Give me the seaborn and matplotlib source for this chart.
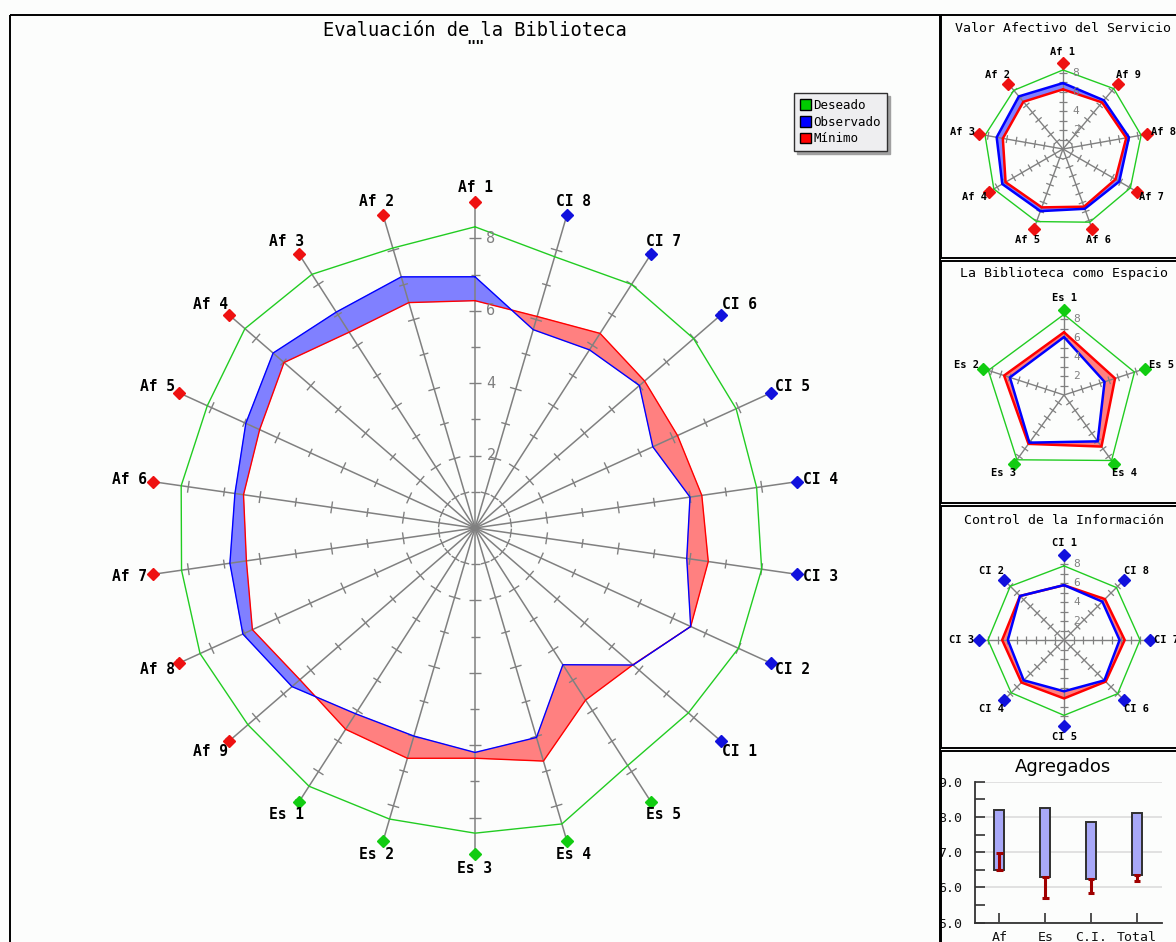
import numpy as np
import matplotlib
matplotlib.use("Agg")
import matplotlib.pyplot as plt
import seaborn as sns
from matplotlib.patches import Rectangle, Patch
from matplotlib.collections import LineCollection

# ---------------------------------------------------------------------------
# Items of each dimension (drawn counter-clockwise starting at the top)
af_labels = ["Af 1", "Af 2", "Af 3", "Af 4", "Af 5", "Af 6", "Af 7", "Af 8", "Af 9"]
es_labels = ["Es 1", "Es 2", "Es 3", "Es 4", "Es 5"]
ci_labels = ["CI 1", "CI 2", "CI 3", "CI 4", "CI 5", "CI 6", "CI 7", "CI 8"]

af_deseado = [8.32, 8.06, 8.33, 8.41, 8.13, 8.20, 8.19, 8.35, 8.30]
af_observado = [6.94, 7.23, 7.09, 7.38, 6.96, 6.70, 6.84, 7.05, 6.69]
af_minimo = [6.28, 6.49, 6.43, 6.98, 6.54, 6.46, 6.38, 6.76, 6.40]

es_deseado = [8.48, 8.38, 8.43, 8.52, 7.80]
es_observado = [6.10, 5.99, 6.20, 6.03, 4.49]
es_minimo = [6.61, 6.63, 6.36, 6.71, 5.65]

ci_deseado = [7.80, 8.00, 8.00, 7.86, 7.93, 7.99, 8.00, 7.81]
ci_observado = [5.78, 6.55, 5.91, 6.00, 5.40, 6.01, 5.85, 5.71]
ci_minimo = [5.77, 6.55, 6.51, 6.33, 6.15, 6.20, 6.39, 6.09]

# Aggregated scores per dimension
agg_categories = ["Af", "Es", "C.I.", "Total"]
agg_minimo = [6.50, 6.31, 6.24, 6.35]
agg_deseado = [8.20, 8.24, 7.86, 8.10]
agg_observado = [6.99, 5.70, 5.85, 6.19]

# ---------------------------------------------------------------------------
W, H = 1176, 942
BG = "#fcfdfc"
AXIS_GRAY = "#808080"
GREEN_LINE = "#22cc22"
BLUE_LINE = "#0000ff"
RED_LINE = "#ff0000"
BLUE_FILL = "#8080ff"
RED_FILL = "#ff8080"
AF_MARK = "#ee1111"
ES_MARK = "#11cc11"
CI_MARK = "#1111dd"
MONO = ["DejaVu Sans Mono"]

sns.set_theme(style="white")
plt.rcParams["font.family"] = MONO
plt.rcParams["axes.facecolor"] = "none"
plt.rcParams["text.color"] = "black"

fig = plt.figure(figsize=(W / 100, H / 100), dpi=100, facecolor=BG)


def px_axes(x0, y0, x1, y1):
    return fig.add_axes([x0 / W, 1 - y1 / H, (x1 - x0) / W, (y1 - y0) / H])


def seg_intersection(p0, p1, q0, q1):
    d1 = p1 - p0
    d2 = q1 - q0
    den = d1[0] * d2[1] - d1[1] * d2[0]
    if abs(den) < 1e-12:
        return (p0 + q0) / 2
    t = ((q0[0] - p0[0]) * d2[1] - (q0[1] - p0[1]) * d2[0]) / den
    return p0 + t * d1


def radar(box, center, scale, labels, deseado, observado, minimo, marker_colors,
          poly_lw, label_size, char_px, label_pad, tick_font, tick_gap,
          tick_major, tick_minor, marker_size, axis_lw):
    x0, y0, x1, y1 = box
    cx, cy = center
    ax = px_axes(x0, y0, x1, y1)
    ax.set_xlim((x0 - cx) / scale, (x1 - cx) / scale)
    ax.set_ylim((cy - y1) / scale, (cy - y0) / scale)
    ax.axis("off")

    n = len(labels)
    ang = np.pi / 2 + 2 * np.pi * np.arange(n) / n
    ux, uy = np.cos(ang), np.sin(ang)
    des = np.asarray(deseado, float)
    obs = np.asarray(observado, float)
    mn = np.asarray(minimo, float)

    # band between observed and minimum: blue where observed is above minimum
    for i in range(n):
        j = (i + 1) % n
        b0 = np.array([obs[i] * ux[i], obs[i] * uy[i]])
        b1 = np.array([obs[j] * ux[j], obs[j] * uy[j]])
        r0 = np.array([mn[i] * ux[i], mn[i] * uy[i]])
        r1 = np.array([mn[j] * ux[j], mn[j] * uy[j]])
        d0, d1 = obs[i] - mn[i], obs[j] - mn[j]
        if d0 * d1 >= 0:
            col = BLUE_FILL if (d0 + d1) > 0 else RED_FILL
            pts = np.array([b0, b1, r1, r0])
            ax.fill(pts[:, 0], pts[:, 1], color=col, lw=0.5, zorder=1)
        else:
            xp = seg_intersection(b0, b1, r0, r1)
            for tri, d in (([b0, xp, r0], d0), ([xp, b1, r1], d1)):
                tri = np.array(tri)
                ax.fill(tri[:, 0], tri[:, 1], color=BLUE_FILL if d > 0 else RED_FILL,
                        lw=0.5, zorder=1)

    # spokes and their unit ticks
    segs_axis = []
    segs_tick = []
    for i in range(n):
        segs_axis.append([(0, 0), (9 * ux[i], 9 * uy[i])])
        px, py = -uy[i], ux[i]
        for r in range(1, 10):
            L = (tick_major if r % 2 == 0 else tick_minor) / scale
            segs_tick.append([(r * ux[i] - L * px, r * uy[i] - L * py),
                              (r * ux[i] + L * px, r * uy[i] + L * py)])
    ax.add_collection(LineCollection(segs_axis, colors=AXIS_GRAY, linewidths=axis_lw, zorder=2))
    ax.add_collection(LineCollection(segs_tick, colors=AXIS_GRAY, linewidths=axis_lw * 0.9, zorder=2))

    # polygons
    for vals, col, lw in ((des, GREEN_LINE, 1.0), (mn, RED_LINE, poly_lw), (obs, BLUE_LINE, poly_lw)):
        xs = list(vals * ux) + [vals[0] * ux[0]]
        ys = list(vals * uy) + [vals[0] * uy[0]]
        sns.lineplot(x=xs, y=ys, sort=False, estimator=None, color=col, lw=lw, ax=ax, zorder=3)

    # item markers and labels
    for i in range(n):
        ax.plot(9 * ux[i], 9 * uy[i], marker="D", ms=marker_size, color=marker_colors[i],
                mec=marker_colors[i], zorder=5, clip_on=False)
        w = len(labels[i]) * char_px
        ox = ux[i] * (w / 2 + label_pad[0])
        oy = uy[i] * (label_pad[2] + label_pad[1])
        ax.annotate(labels[i], xy=(9 * ux[i], 9 * uy[i]), xytext=(ox * 0.72, oy * 0.72),
                    textcoords="offset points", ha="center", va="center",
                    fontsize=label_size, fontweight="bold", color="black", zorder=6,
                    annotation_clip=False)

    # scale labels on the top spoke
    for v in (2, 4, 6, 8):
        ax.annotate(str(v), xy=(0, v), xytext=(tick_gap * 0.72, 0), textcoords="offset points",
                    ha="center", va="center", fontsize=tick_font, color=AXIS_GRAY, zorder=6)
    return ax


main_colors = [AF_MARK] * 9 + [ES_MARK] * 5 + [CI_MARK] * 8
radar((11, 16, 939, 941), (475, 528), 36.2,
      af_labels + es_labels + ci_labels,
      af_deseado + es_deseado + ci_deseado,
      af_observado + es_observado + ci_observado,
      af_minimo + es_minimo + ci_minimo,
      main_colors, poly_lw=1.0, label_size=10.5, char_px=8.8, label_pad=(6, 9, 6),
      tick_font=11, tick_gap=16, tick_major=6, tick_minor=4.5, marker_size=6.5, axis_lw=1.1)

small_kw = dict(poly_lw=1.8, label_size=7.5, char_px=6.5, label_pad=(4, 7, 4.5),
                tick_font=8, tick_gap=13, tick_major=4, tick_minor=4, marker_size=6, axis_lw=1.0)
radar((942, 40, 1176, 257), (1063, 149), 9.5, af_labels, af_deseado, af_observado, af_minimo,
      [AF_MARK] * 9, **small_kw)
radar((942, 285, 1176, 502), (1064, 395), 9.5, es_labels, es_deseado, es_observado, es_minimo,
      [ES_MARK] * 5, **small_kw)
radar((942, 530, 1176, 747), (1064, 640), 9.5, ci_labels, ci_deseado, ci_observado, ci_minimo,
      [CI_MARK] * 8, **small_kw)

# ---------------------------------------------------------------------------
# aggregated scores: zone between minimum and desired, red bar up/down to observed
agg_ax = px_axes(975, 781.7, 1162, 922.7)
heights = [d - m for d, m in zip(agg_deseado, agg_minimo)]
sns.barplot(x=agg_categories, y=heights, bottom=agg_minimo, width=0.22, color="#a8a8f8",
            saturation=1, edgecolor="#303030", linewidth=1.4, errorbar=None, ax=agg_ax, zorder=3)
xpos = np.arange(len(agg_categories))
agg_ax.vlines(xpos, agg_minimo, agg_observado, color="#a00000", lw=2.2, zorder=4)
cap = 0.07
agg_ax.hlines(agg_minimo, xpos - cap, xpos + cap, color="#a00000", lw=2.2, zorder=4)
agg_ax.hlines(agg_observado, xpos - cap, xpos + cap, color="#a00000", lw=2.2, zorder=4)
agg_ax.set_ylim(5, 9)
agg_ax.set_xlim(-0.53, 3.54)
agg_ax.set_yticks([5, 6, 7, 8, 9])
agg_ax.set_yticklabels([f"{v:.1f}" for v in (5, 6, 7, 8, 9)])
agg_ax.set_yticks([5.5, 6.5, 7.5, 8.5], minor=True)
agg_ax.set_xticks(xpos)
agg_ax.set_xticklabels(agg_categories)
agg_ax.set_xlabel("")
agg_ax.set_ylabel("")
agg_ax.yaxis.grid(True, color="#dcdcdc", lw=1.2)
agg_ax.set_axisbelow(True)
agg_ax.tick_params(which="both", direction="in", length=7, width=1.2, color="#333333",
                   labelsize=9.5, labelcolor="#111111")
agg_ax.tick_params(axis="y", which="both", left=True, pad=9)
agg_ax.tick_params(axis="x", bottom=True, pad=6)
for s in ("top", "right"):
    agg_ax.spines[s].set_visible(False)
for s in ("left", "bottom"):
    agg_ax.spines[s].set_color("#333333")
    agg_ax.spines[s].set_linewidth(1.3)

# ---------------------------------------------------------------------------
# frames, titles and legend in figure pixel space
ov = fig.add_axes([0, 0, 1, 1], zorder=10)
ov.set_xlim(0, W)
ov.set_ylim(H, 0)
ov.axis("off")
for (x0, y0, x1, y1) in ((10, 15, 940, 960), (941, 15, 1185, 258), (941, 261, 1185, 503),
                         (941, 506, 1185, 748), (941, 751, 1185, 960)):
    ov.add_patch(Rectangle((x0, y0), x1 - x0, y1 - y0, fill=False, ec="black", lw=1.4))

ov.text(475, 30, "Evaluación de la Biblioteca", ha="center", va="center", fontsize=13.5,
        color="black")
ov.text(475, 47, '""', ha="center", va="center", fontsize=11, fontweight="bold", color="black")
ov.text(1063, 29, "Valor Afectivo del Servicio", ha="center", va="center", fontsize=9.5,
        color="black")
ov.text(1064, 274, "La Biblioteca como Espacio", ha="center", va="center", fontsize=9.5,
        color="black")
ov.text(1064, 520, "Control de la Información", ha="center", va="center", fontsize=9.5,
        color="black")
ov.text(1063, 767, "Agregados", ha="center", va="center", fontsize=13,
        family=["DejaVu Sans"], color="black")

handles = [Patch(facecolor="#00cc00", edgecolor="black", lw=1),
           Patch(facecolor="#0000ff", edgecolor="black", lw=1),
           Patch(facecolor="#ff0000", edgecolor="black", lw=1)]
leg = ov.legend(handles, ["Deseado", "Observado", "Mínimo"], loc="upper left",
                bbox_to_anchor=(788, 87), bbox_transform=ov.transData,
                fontsize=9, handlelength=0.9, handleheight=0.9, handletextpad=0.2,
                borderpad=0.45, labelspacing=0.3, fancybox=False, framealpha=1,
                edgecolor="#303030", facecolor="#eeeef0",
                shadow={"color": "#a0a0a0", "alpha": 1})
leg.get_frame().set_linewidth(1.0)
for t in leg.get_texts():
    t.set_color("black")

fig.savefig("out.png", dpi=100, facecolor=BG)
